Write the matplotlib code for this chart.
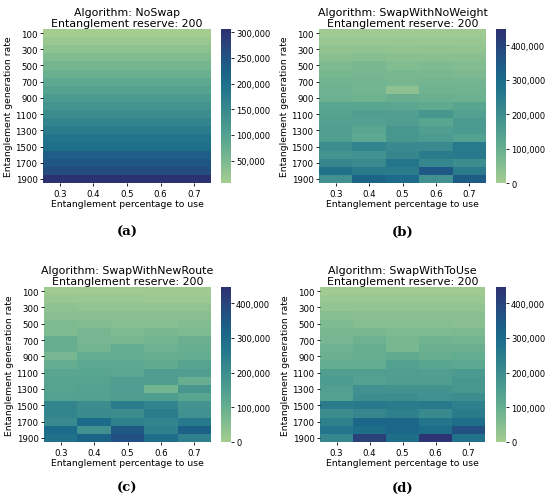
import numpy as np
import matplotlib
matplotlib.use("Agg")
import matplotlib.pyplot as plt
import seaborn as sns
from matplotlib.ticker import FuncFormatter, MultipleLocator

rates = [100, 200, 300, 400, 500, 600, 700, 800, 900, 1000,
         1100, 1200, 1300, 1400, 1500, 1600, 1700, 1800, 1900]
percentages = ["0.3", "0.4", "0.5", "0.6", "0.7"]

noswap_row = [6600, 18000, 30000, 45000, 58000, 72000, 88000, 100000, 115000, 128000,
              140000, 157000, 175000, 190000, 200000, 230000, 245000, 262000, 306000]
noswap = [[v] * 5 for v in noswap_row]

swap_no_weight = [
    [10000, 10000, 10000, 10000, 10000],
    [20000, 20000, 20000, 20000, 20000],
    [32000, 33000, 30000, 32000, 30000],
    [45000, 50000, 45000, 45000, 45000],
    [60000, 70000, 55000, 60000, 55000],
    [70000, 75000, 70000, 70000, 65000],
    [85000, 80000, 75000, 80000, 80000],
    [90000, 80000, 40000, 85000, 85000],
    [90000, 85000, 100000, 95000, 90000],
    [130000, 130000, 125000, 115000, 130000],
    [135000, 145000, 145000, 170000, 140000],
    [140000, 140000, 150000, 130000, 160000],
    [145000, 130000, 170000, 145000, 160000],
    [150000, 120000, 170000, 160000, 140000],
    [200000, 230000, 210000, 210000, 260000],
    [180000, 190000, 220000, 250000, 260000],
    [220000, 210000, 270000, 220000, 200000],
    [280000, 250000, 250000, 350000, 250000],
    [190000, 320000, 300000, 190000, 340000],
]

swap_new_route = [
    [10000, 10000, 10000, 10000, 10000],
    [20000, 20000, 20000, 15000, 15000],
    [35000, 30000, 30000, 30000, 30000],
    [45000, 45000, 45000, 45000, 45000],
    [60000, 55000, 50000, 50000, 55000],
    [60000, 75000, 60000, 70000, 60000],
    [100000, 75000, 70000, 80000, 95000],
    [100000, 80000, 110000, 90000, 100000],
    [75000, 110000, 110000, 100000, 105000],
    [105000, 120000, 120000, 115000, 135000],
    [130000, 130000, 125000, 155000, 150000],
    [135000, 135000, 150000, 150000, 100000],
    [135000, 140000, 155000, 80000, 170000],
    [140000, 140000, 150000, 150000, 130000],
    [225000, 200000, 250000, 230000, 180000],
    [225000, 205000, 200000, 250000, 190000],
    [210000, 300000, 240000, 230000, 260000],
    [300000, 190000, 350000, 240000, 330000],
    [280000, 320000, 370000, 290000, 240000],
]

swap_to_use = [
    [10000, 10000, 10000, 10000, 10000],
    [20000, 20000, 20000, 20000, 20000],
    [30000, 30000, 30000, 30000, 30000],
    [48000, 45000, 42000, 42000, 42000],
    [60000, 50000, 50000, 50000, 45000],
    [70000, 70000, 60000, 60000, 65000],
    [75000, 90000, 70000, 85000, 80000],
    [90000, 100000, 70000, 95000, 95000],
    [95000, 100000, 115000, 100000, 110000],
    [110000, 110000, 140000, 130000, 120000],
    [150000, 150000, 150000, 145000, 160000],
    [160000, 140000, 150000, 150000, 170000],
    [145000, 190000, 180000, 180000, 170000],
    [140000, 200000, 200000, 190000, 200000],
    [250000, 260000, 250000, 260000, 240000],
    [200000, 220000, 240000, 210000, 250000],
    [240000, 310000, 310000, 270000, 290000],
    [270000, 290000, 310000, 290000, 370000],
    [220000, 410000, 290000, 440000, 280000],
]

titles = ["NoSwap", "SwapWithNoWeight", "SwapWithNewRoute", "SwapWithToUse"]
panel_labels = ["(a)", "(b)", "(c)", "(d)"]
datasets = [noswap, swap_no_weight, swap_new_route, swap_to_use]
vlims = [(None, None), (0, 447000), (0, 447000), (0, 447000)]
cbar_steps = [50000, 100000, 100000, 100000]

W, H = 550, 502
fig = plt.figure(figsize=(W / 100, H / 100), dpi=100)

# pixel boxes: (left, top, right, bottom) of heatmap, colorbar left
boxes = [
    (43, 30, 211, 184, 221),
    (319, 30, 486, 184, 496),
    (44, 288, 211, 443, 221),
    (320, 288, 485, 443, 496),
]
label_y = [232, 232, 488, 488]

fmt = FuncFormatter(lambda x, p: f"{x:,.0f}")

for i, (data, title, lab, (vmin, vmax), step, box) in enumerate(
        zip(datasets, titles, panel_labels, vlims, cbar_steps, boxes)):
    l, t, r, b, cl = box
    ax = fig.add_axes([l / W, 1 - b / H, (r - l) / W, (b - t) / H])
    cax = fig.add_axes([cl / W, 1 - b / H, 9.5 / W, (b - t) / H])
    arr = np.array(data, dtype=float)
    sns.heatmap(arr, ax=ax, cbar_ax=cax, cmap="crest", vmin=vmin, vmax=vmax,
                xticklabels=percentages, yticklabels=False)
    ax.set_yticks(np.arange(0, len(rates), 2) + 0.5)
    ax.set_yticklabels([str(v) for v in rates[::2]], rotation=0, fontsize=6.2)
    ax.set_xticklabels(percentages, rotation=0, fontsize=6.2)
    ax.tick_params(axis="both", length=2.5, width=0.6, pad=1.5)
    ax.set_xlabel("Entanglement percentage to use", fontsize=6.7, labelpad=1)
    ax.set_ylabel("Entanglement generation rate", fontsize=6.7, labelpad=2)
    ax.set_title(f"Algorithm: {title}\nEntanglement reserve: 200", fontsize=7.9,
                 pad=2.0, linespacing=1.15)
    cax.yaxis.set_major_locator(MultipleLocator(step))
    cax.yaxis.set_major_formatter(fmt)
    cax.tick_params(labelsize=6.0, length=2.5, width=0.6, pad=1.5)
    cx = (l + r) / 2
    fig.text(cx / W, 1 - label_y[i] / H, lab, ha="center", va="center",
             fontsize=9.5, fontweight="bold", family="DejaVu Serif")

fig.savefig("out.png", dpi=100, facecolor="white")
